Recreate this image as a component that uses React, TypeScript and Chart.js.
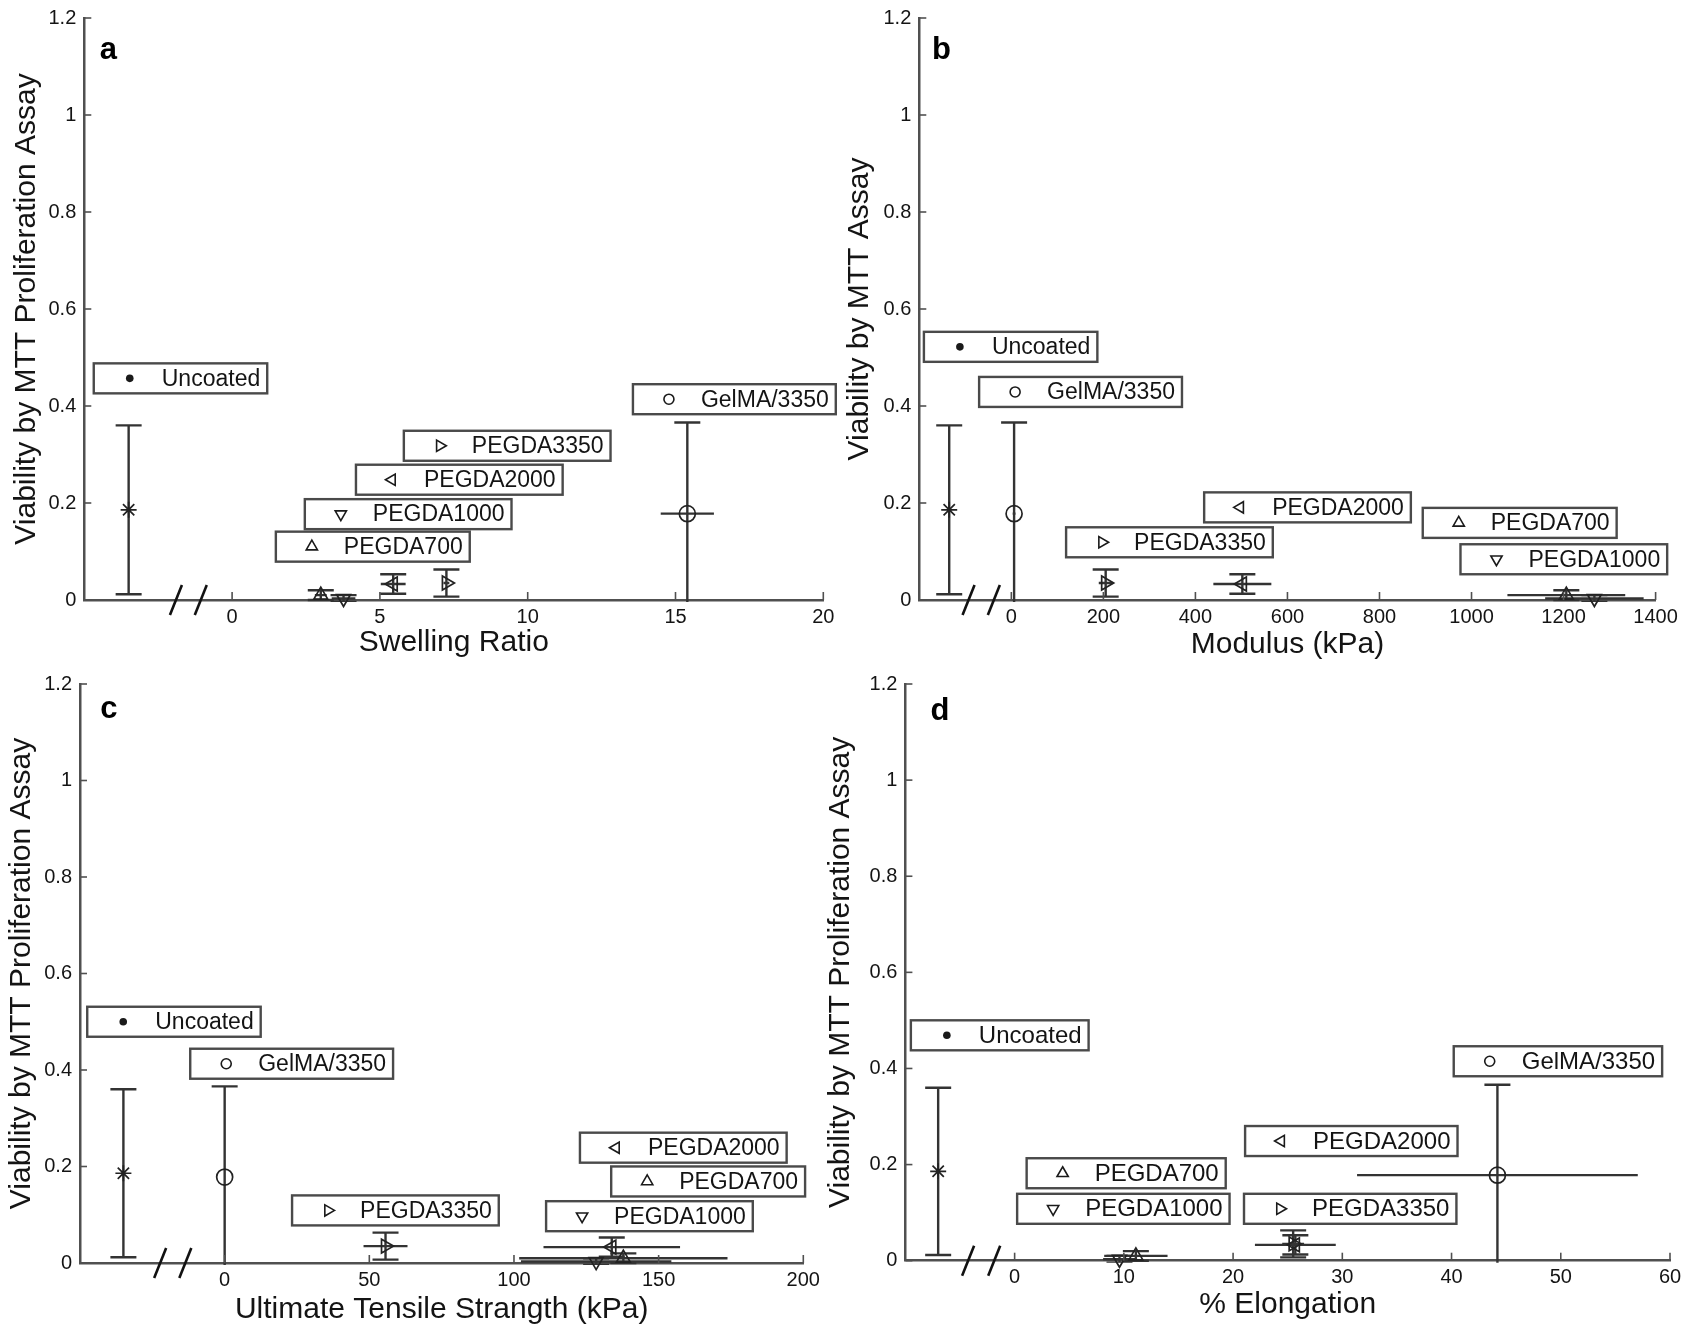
import React, { useEffect, useRef } from 'react';
import { Chart, registerables } from 'chart.js';

Chart.register(...registerables);

const FONT = "'Liberation Sans', Arial, Helvetica, sans-serif";
const INK = '#141414';
const AXIS = '#505050';
const BAR = '#333333';

// ---------- data ----------
const materials = ['Uncoated', 'GelMA/3350', 'PEGDA700', 'PEGDA1000', 'PEGDA2000', 'PEGDA3350'];
const viability = [0.186, 0.178, 0.01, 0.003, 0.033, 0.035];
const viabilityErr = [0.174, 0.188, 0.01, 0.007, 0.02, 0.028];

const swellingRatio = [-3.5, 15.4, 3.0, 3.77, 5.45, 7.25];
const swellingRatioErr = [0, 0.9, 0.2, 0.4, 0.42, 0.1];
const modulus = [-135, 6, 1206, 1267, 502, 205];
const modulusErr = [0, 3, 128, 107, 63, 15];
const tensileStrength = [-35, 0, 137.8, 128.4, 133.8, 55.6];
const tensileStrengthErr = [0, 0, 36, 26, 23.6, 7.6];
const elongation = [-7, 44.2, 11.1, 9.6, 25.7, 25.5];
const elongationErr = [0, 12.85, 2.9, 1.5, 3.7, 1.0];

// label-box anchors (data units: left edge x, centre y)
const swellingLabelX = [-4.68, 13.56, 1.48, 2.46, 4.19, 5.81];
const swellingLabelY = [0.457, 0.414, 0.11, 0.177, 0.248, 0.318];
const modulusLabelX = [-190, -70, 894, 976, 419, 119];
const modulusLabelY = [0.522, 0.429, 0.159, 0.084, 0.191, 0.119];
const tensileLabelX = [-47.5, -11.9, 133.6, 111.1, 122.8, 23.3];
const tensileLabelY = [0.5, 0.413, 0.169, 0.097, 0.239, 0.109];
const elongationLabelX = [-9.5, 40.2, 1.1, 0.23, 21.1, 21.0];
const elongationLabelY = [0.469, 0.415, 0.182, 0.108, 0.249, 0.108];

// axis-break marks (data units on x)
const swellingBreaks = [-1.9, -1.06];
const modulusBreaks = [-93, -38];
const tensileBreaks = [-22.3, -13.6];
const elongationBreaks = [-4.26, -1.87];

const yTicksMin = 0;
const yTicksMax = 1.2;
const yTickStep = 0.2;

// marker styles
const markerStyles = ['star', 'circle', 'triangle', 'triangle', 'triangle', 'triangle'];
const markerRotations = [0, 0, 0, 180, 270, 90];
const markerRadii = [8, 8, 8, 8, 8, 8];

interface PanelSpec {
  letter: string;
  letterX: number;
  letterY: number;
  xTitle: string;
  yTitle: string;
  xMin: number;
  xMax: number;
  xStep: number;
  xs: number[];
  xErr: number[];
  labelX: number[];
  labelY: number[];
  breaks: number[];
  left: number;
  top: number;
  width: number;
  height: number;
  yAxisWidth: number;
  xAxisHeight: number;
  padTop: number;
  padRight: number;
  yTitlePad: number;
  xTitlePad: number;
  labelFont: number;
}

const panels: PanelSpec[] = [
  {
    letter: 'a', letterX: -4.48, letterY: 1.116,
    xTitle: 'Swelling Ratio', yTitle: 'Viability by MTT Proliferation Assay',
    xMin: -5, xMax: 20, xStep: 5,
    xs: swellingRatio, xErr: swellingRatioErr,
    labelX: swellingLabelX, labelY: swellingLabelY, breaks: swellingBreaks,
    left: 0, top: 0, width: 845, height: 666,
    yAxisWidth: 84.3, xAxisHeight: 66, padTop: 16, padRight: 21.7,
    yTitlePad: 12, xTitlePad: 8, labelFont: 23,
  },
  {
    letter: 'b', letterX: -172.6, letterY: 1.116,
    xTitle: 'Modulus (kPa)', yTitle: 'Viability by MTT Assay',
    xMin: -200, xMax: 1400, xStep: 200,
    xs: modulus, xErr: modulusErr,
    labelX: modulusLabelX, labelY: modulusLabelY, breaks: modulusBreaks,
    left: 845, top: 0, width: 845, height: 666,
    yAxisWidth: 74.3, xAxisHeight: 66, padTop: 16, padRight: 34.4,
    yTitlePad: 0, xTitlePad: 6.5, labelFont: 23,
  },
  {
    letter: 'c', letterX: -43, letterY: 1.13,
    xTitle: 'Ultimate Tensile Strangth (kPa)', yTitle: 'Viability by MTT Proliferation Assay',
    xMin: -50, xMax: 200, xStep: 50,
    xs: tensileStrength, xErr: tensileStrengthErr,
    labelX: tensileLabelX, labelY: tensileLabelY, breaks: tensileBreaks,
    left: 0, top: 666, width: 845, height: 666,
    yAxisWidth: 80, xAxisHeight: 69, padTop: 15, padRight: 41.7,
    yTitlePad: 6.6, xTitlePad: 7, labelFont: 23,
  },
  {
    letter: 'd', letterX: -7.7, letterY: 1.126,
    xTitle: '% Elongation', yTitle: 'Viability by MTT Proliferation Assay',
    xMin: -10, xMax: 60, xStep: 10,
    xs: elongation, xErr: elongationErr,
    labelX: elongationLabelX, labelY: elongationLabelY, breaks: elongationBreaks,
    left: 815, top: 666, width: 875, height: 666,
    yAxisWidth: 90.4, xAxisHeight: 71.3, padTop: 10.6, padRight: 20,
    yTitlePad: 11, xTitlePad: 12, labelFont: 24,
  },
];

function line(ctx: CanvasRenderingContext2D, x1: number, y1: number, x2: number, y2: number) {
  ctx.beginPath();
  ctx.moveTo(x1, y1);
  ctx.lineTo(x2, y2);
  ctx.stroke();
}

function drawMiniMarker(ctx: CanvasRenderingContext2D, i: number, x: number, y: number) {
  ctx.save();
  ctx.strokeStyle = '#1a1a1a';
  ctx.fillStyle = '#1a1a1a';
  ctx.lineWidth = 1.6;
  const style = markerStyles[i];
  if (style === 'star') {
    ctx.beginPath();
    ctx.arc(x, y, 3.8, 0, Math.PI * 2);
    ctx.fill();
  } else if (style === 'circle') {
    ctx.beginPath();
    ctx.arc(x, y, 5, 0, Math.PI * 2);
    ctx.stroke();
  } else {
    const r = 6.5;
    let rad = (markerRotations[i] * Math.PI) / 180;
    ctx.beginPath();
    for (let k = 0; k < 3; k++) {
      const px = x + Math.sin(rad) * r;
      const py = y - Math.cos(rad) * r;
      if (k === 0) ctx.moveTo(px, py);
      else ctx.lineTo(px, py);
      rad += (2 * Math.PI) / 3;
    }
    ctx.closePath();
    ctx.stroke();
  }
  ctx.restore();
}

function makePlugin(spec: PanelSpec) {
  return {
    id: 'decor' + spec.letter,
    beforeDatasetsDraw(chart: any) {
      const ctx: CanvasRenderingContext2D = chart.ctx;
      const xs = chart.scales.x;
      const ys = chart.scales.y;
      const a = chart.chartArea;
      ctx.save();
      ctx.beginPath();
      ctx.rect(a.left - 2, a.top - 2, a.right - a.left + 4, a.bottom - a.top + 4);
      ctx.clip();
      ctx.strokeStyle = BAR;
      ctx.lineWidth = 2.4;
      for (let i = 0; i < materials.length; i++) {
        const px = xs.getPixelForValue(spec.xs[i]);
        const py = ys.getPixelForValue(viability[i]);
        if (viabilityErr[i] > 0) {
          const t = ys.getPixelForValue(viability[i] + viabilityErr[i]);
          const b = ys.getPixelForValue(viability[i] - viabilityErr[i]);
          line(ctx, px, t, px, b);
          line(ctx, px - 13, t, px + 13, t);
          line(ctx, px - 13, b, px + 13, b);
        }
        if (spec.xErr[i] > 0) {
          const l = xs.getPixelForValue(spec.xs[i] - spec.xErr[i]);
          const r = xs.getPixelForValue(spec.xs[i] + spec.xErr[i]);
          line(ctx, l, py, r, py);
        }
      }
      ctx.restore();
    },
    afterDraw(chart: any) {
      const ctx: CanvasRenderingContext2D = chart.ctx;
      const xs = chart.scales.x;
      const ys = chart.scales.y;
      const a = chart.chartArea;
      ctx.save();
      // inward ticks
      ctx.strokeStyle = AXIS;
      ctx.lineWidth = 1.6;
      xs.ticks.forEach((t: any) => {
        if (t.value < 0) return;
        const p = xs.getPixelForValue(t.value);
        line(ctx, p, a.bottom, p, a.bottom - 8);
      });
      ys.ticks.forEach((t: any) => {
        const p = ys.getPixelForValue(t.value);
        line(ctx, a.left, p, a.left + 7, p);
      });
      // axis breaks
      ctx.strokeStyle = '#111';
      ctx.lineWidth = 2.6;
      spec.breaks.forEach((bv) => {
        const p = xs.getPixelForValue(bv);
        line(ctx, p - 6, a.bottom + 15, p + 6, a.bottom - 15);
      });
      // label boxes
      ctx.font = `${spec.labelFont}px ${FONT}`;
      ctx.textAlign = 'left';
      ctx.textBaseline = 'middle';
      for (let i = 0; i < materials.length; i++) {
        const bx = xs.getPixelForValue(spec.labelX[i]);
        const by = ys.getPixelForValue(spec.labelY[i]);
        const tw = ctx.measureText(materials[i]).width;
        const w = tw + 75;
        const h = 30;
        ctx.fillStyle = '#ffffff';
        ctx.fillRect(bx, by - h / 2, w, h);
        ctx.strokeStyle = '#4a4a4a';
        ctx.lineWidth = 2.4;
        ctx.strokeRect(bx, by - h / 2, w, h);
        drawMiniMarker(ctx, i, bx + 36, by);
        ctx.fillStyle = INK;
        ctx.fillText(materials[i], bx + 68, by + 1);
      }
      // panel letter
      ctx.fillStyle = '#000';
      ctx.font = `bold 31px ${FONT}`;
      ctx.textBaseline = 'alphabetic';
      ctx.fillText(spec.letter, xs.getPixelForValue(spec.letterX), ys.getPixelForValue(spec.letterY));
      ctx.restore();
    },
  };
}

function buildConfig(spec: PanelSpec): any {
  return {
    type: 'scatter',
    data: {
      datasets: materials.map((m, i) => ({
        label: m,
        data: [{ x: spec.xs[i], y: viability[i] }],
        pointStyle: markerStyles[i],
        pointRotation: markerRotations[i],
        pointRadius: markerRadii[i],
        pointHoverRadius: markerRadii[i],
        pointBorderColor: '#222',
        pointBackgroundColor: 'rgba(0,0,0,0)',
        pointBorderWidth: 1.7,
        showLine: false,
        clip: false,
      })),
    },
    options: {
      responsive: false,
      animation: false,
      devicePixelRatio: 1,
      events: [],
      layout: { padding: { left: 0, right: spec.padRight, top: spec.padTop, bottom: 0 } },
      plugins: { legend: { display: false }, tooltip: { enabled: false } },
      scales: {
        x: {
          type: 'linear',
          min: spec.xMin,
          max: spec.xMax,
          grid: { display: false, drawTicks: false },
          border: { display: true, color: AXIS, width: 2.5 },
          ticks: {
            stepSize: spec.xStep,
            autoSkip: false,
            maxRotation: 0,
            padding: 5,
            color: INK,
            font: { family: FONT, size: 20 },
            callback: (v: number) => (v < -1e-9 ? '' : String(Math.round(v * 100) / 100)),
          },
          title: {
            display: true,
            text: spec.xTitle,
            color: INK,
            font: { family: FONT, size: 30, lineHeight: 1 },
            padding: { top: 0, bottom: spec.xTitlePad },
          },
          afterFit: (s: any) => {
            s.height = spec.xAxisHeight;
          },
        },
        y: {
          type: 'linear',
          min: yTicksMin,
          max: yTicksMax,
          grid: { display: false, drawTicks: false },
          border: { display: true, color: AXIS, width: 2.5 },
          ticks: {
            stepSize: yTickStep,
            padding: 8,
            color: INK,
            font: { family: FONT, size: 20, lineHeight: 1 },
            callback: (v: number) => String(Math.round(v * 10) / 10),
          },
          title: {
            display: true,
            text: spec.yTitle,
            color: INK,
            font: { family: FONT, size: 30, lineHeight: 1 },
            padding: { top: spec.yTitlePad, bottom: 0 },
          },
          afterFit: (s: any) => {
            s.width = spec.yAxisWidth;
          },
        },
      },
    },
    plugins: [makePlugin(spec)],
  };
}

function Panel({ spec }: { spec: PanelSpec }) {
  const ref = useRef<HTMLCanvasElement>(null);
  useEffect(() => {
    if (!ref.current) return;
    const chart = new Chart(ref.current, buildConfig(spec));
    return () => chart.destroy();
  }, [spec]);
  return (
    <canvas
      ref={ref}
      width={spec.width}
      height={spec.height}
      style={{ position: 'absolute', left: spec.left, top: spec.top, width: spec.width, height: spec.height }}
    />
  );
}

export default function App() {
  return (
    <div
      style={{
        position: 'absolute',
        left: 0,
        top: 0,
        width: 1690,
        height: 1332,
        background: '#ffffff',
        overflow: 'hidden',
      }}
    >
      {panels.map((p) => (
        <Panel key={p.letter} spec={p} />
      ))}
    </div>
  );
}
